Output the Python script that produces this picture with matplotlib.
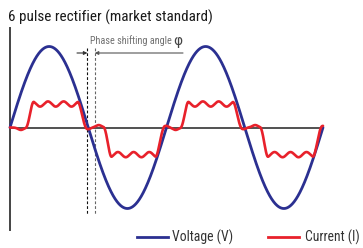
import numpy as np
import matplotlib
matplotlib.use("Agg")
import matplotlib.pyplot as plt
from matplotlib import font_manager as fm

# ---------------- data ----------------
title_text = "6 pulse rectifier (market standard)"
annot_text = "Phase shifting angle"
phi_text = "\u03c6"
legend_labels = ["Voltage (V)", "Current (I)"]

n_cycles = 2
voltage_amplitude = 1.0
# current per half cycle: plateau level, conduction start / end (deg within half cycle)
current_levels = [0.29, -0.335, 0.29, -0.335]
conduction_start = [36, 35, 32, 35]
conduction_end = [177, 176, 174, 178]
rise_width = 19
fall_width = 22
ripple_amp = 0.032
ripple_count = 3
undershoot = 0.03
phase_lines_deg = [178, 195]

# ---------------- font ----------------
avail = {f.name for f in fm.fontManager.ttflist}
prefs = ["Roboto Condensed", "Liberation Sans Narrow", "Archivo Narrow",
         "Open Sans Condensed", "Barlow Semi Condensed", "Asap Condensed",
         "Barlow Condensed", "DejaVu Sans"]
font = next(p for p in prefs if p in avail)
plt.rcParams['font.family'] = [font, 'DejaVu Sans']

# ---------------- geometry ----------------
W, H = 363, 248
px_per_deg = 156.5 / 360.0
x0_px, y0_px, amp_px = 10.0, 127.5, 81.0

fig = plt.figure(figsize=(W / 100, H / 100), dpi=100)
ax = fig.add_axes([0, 0, 1, 1])
ax.set_xlim((0 - x0_px) / px_per_deg, (W - x0_px) / px_per_deg)
ax.set_ylim((y0_px - H) / amp_px, y0_px / amp_px)
ax.axis('off')

def px2x(p):
    return (p - x0_px) / px_per_deg

def py2y(p):
    return (y0_px - p) / amp_px

blue = '#2b3091'
red = '#e8212b'

theta = np.linspace(0, 360 * n_cycles, 3000)
voltage = voltage_amplitude * np.sin(np.radians(theta))

def smooth(u):
    u = np.clip(u, 0, 1)
    return u * u * (3 - 2 * u)

current = np.zeros_like(theta)
for k, lvl in enumerate(current_levels):
    a = 180 * k + conduction_start[k]
    b = 180 * k + conduction_end[k]
    up = smooth((theta - a) / rise_width)
    down = 1 - smooth((theta - (b - fall_width)) / fall_width)
    env = up * down
    p0 = a + rise_width * 0.8
    p1 = b - fall_width * 0.8
    per = (p1 - p0) / ripple_count
    rip = ripple_amp * np.cos(2 * np.pi * (theta - p0) / per)
    s = np.sign(lvl)
    current += lvl * env + s * rip * env
    # gentle undershoot around zero crossing before / after conduction
    current += -s * undershoot * np.exp(-((theta - (a - 11)) / 9.0) ** 2)
    current += -s * undershoot * 0.7 * np.exp(-((theta - (b + 3)) / 7.0) ** 2)
current[theta < 0.5] = 0

# axes lines
ax.plot([0, 360 * n_cycles], [0, 0], color='#222222', lw=1.1, zorder=1)
ax.plot([px2x(9.5), px2x(9.5)], [py2y(28), py2y(230)], color='#444444', lw=1.4, zorder=1)

# dashed phase lines
ax.plot([phase_lines_deg[0]] * 2, [py2y(48), py2y(214)], color='#111111', lw=0.8,
        ls=(0, (2.5, 1.8)), zorder=2)
ax.plot([phase_lines_deg[1]] * 2, [py2y(48), py2y(214)], color='#666666', lw=0.8,
        ls=(0, (2.5, 1.8)), zorder=2)

# phase arrows
ya = py2y(53)
ax.annotate('', xy=(phase_lines_deg[0], ya), xytext=(px2x(77), ya),
            arrowprops=dict(arrowstyle='-|>', color='#333333', lw=0.8,
                            mutation_scale=5, shrinkA=0, shrinkB=0))
ax.annotate('', xy=(phase_lines_deg[1], ya), xytext=(px2x(183), ya),
            arrowprops=dict(arrowstyle='-|>', color='#555555', lw=0.8,
                            mutation_scale=5, shrinkA=0, shrinkB=0))

# waves
ax.plot(theta, voltage, color=blue, lw=2.0, zorder=3, solid_capstyle='round')
ax.plot(theta, current, color=red, lw=1.9, zorder=4, solid_capstyle='round')

# texts
fig.canvas.draw()
renderer = fig.canvas.get_renderer()

def fit_text(t, target_w):
    w = t.get_window_extent(renderer).width
    t.set_fontsize(t.get_fontsize() * target_w / w)

tt = fig.text(8 / W, 1 - 22 / H, title_text, fontsize=10.2, color='#1a1a1a',
              ha='left', va='baseline')
fit_text(tt, 202)
t1 = ax.text(px2x(90), py2y(44.5), annot_text, fontsize=7.2, color='#707070',
             ha='left', va='baseline')
fit_text(t1, 81)
bb = t1.get_window_extent(renderer)
ax.text(px2x(bb.x1 + 1.5), py2y(45), phi_text, fontsize=10, color='#444444',
        ha='left', va='baseline', family='DejaVu Sans')

# legend
yl = py2y(237)
ax.plot([px2x(137), px2x(168)], [yl, yl], color=blue, lw=2.0)
l1 = ax.text(px2x(172), py2y(242), legend_labels[0], fontsize=9.5, color='#333333',
             ha='left', va='baseline')
fit_text(l1, 61)
ax.plot([px2x(268), px2x(299)], [yl, yl], color=red, lw=2.0)
l2 = ax.text(px2x(305), py2y(242), legend_labels[1], fontsize=9.5, color='#333333',
             ha='left', va='baseline')
fit_text(l2, 55)

fig.savefig("out.png", dpi=100)
